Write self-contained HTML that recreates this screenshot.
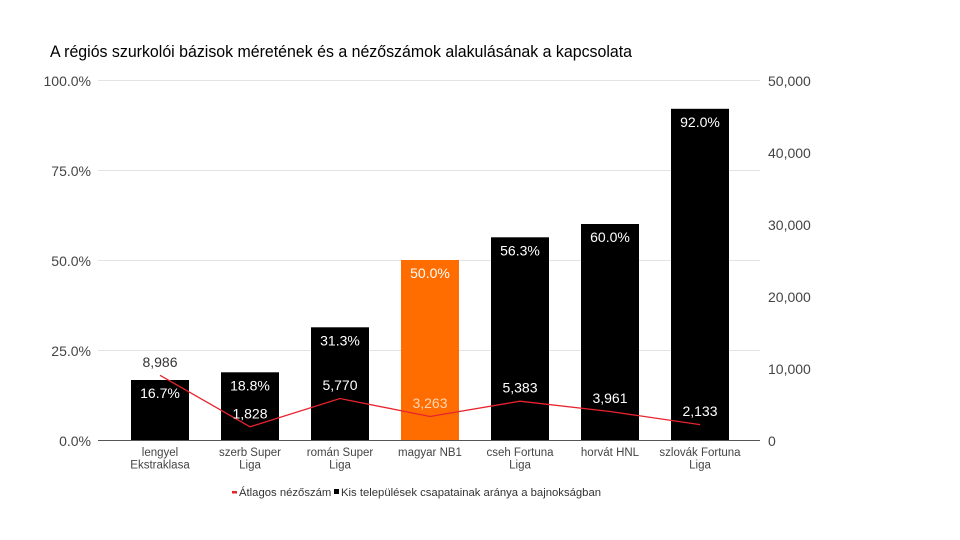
<!DOCTYPE html>
<html>
<head>
<meta charset="utf-8">
<style>
  html, body { margin:0; padding:0; background:#fff; }
  svg { display:block; }
  text { font-family: "Liberation Sans", Arial, sans-serif; }
</style>
</head>
<body>
<svg width="960" height="540" viewBox="0 0 960 540" xmlns="http://www.w3.org/2000/svg">
  <rect width="960" height="540" fill="#fff"/>
  <!-- Title -->
  <text x="50" y="57" font-size="16.3" fill="#000" textLength="582" lengthAdjust="spacingAndGlyphs">A régiós szurkolói bázisok méretének és a nézőszámok alakulásának a kapcsolata</text>

  <!-- Gridlines -->
  <g stroke="#e3e3e3" stroke-width="1">
    <line x1="98" y1="80.5" x2="760" y2="80.5"/>
    <line x1="98" y1="170.5" x2="760" y2="170.5"/>
    <line x1="98" y1="260.5" x2="760" y2="260.5"/>
    <line x1="98" y1="350.5" x2="760" y2="350.5"/>
  </g>

  <!-- Left axis labels -->
  <g font-size="14" fill="#444" text-anchor="end">
    <text x="91" y="86">100.0%</text>
    <text x="91" y="176">75.0%</text>
    <text x="91" y="266">50.0%</text>
    <text x="91" y="356">25.0%</text>
    <text x="91" y="446">0.0%</text>
  </g>
  <!-- Right axis labels -->
  <g font-size="14" fill="#444">
    <text x="768" y="86">50,000</text>
    <text x="768" y="158">40,000</text>
    <text x="768" y="230">30,000</text>
    <text x="768" y="302">20,000</text>
    <text x="768" y="374">10,000</text>
    <text x="768" y="446">0</text>
  </g>

  <!-- Bars -->
  <g>
    <rect x="131" y="380" width="58" height="60" fill="#000"/>
    <rect x="221" y="372.3" width="58" height="67.7" fill="#000"/>
    <rect x="311" y="327.3" width="58" height="112.7" fill="#000"/>
    <rect x="401" y="260" width="58" height="180" fill="#ff6d00"/>
    <rect x="491" y="237.3" width="58" height="202.7" fill="#000"/>
    <rect x="581" y="224" width="58" height="216" fill="#000"/>
    <rect x="671" y="108.8" width="58" height="331.2" fill="#000"/>
  </g>

  <!-- Baseline -->
  <line x1="98" y1="440.5" x2="760" y2="440.5" stroke="#555" stroke-width="1"/>

  <!-- Bar labels -->
  <g font-size="14" fill="#fff" text-anchor="middle">
    <text x="160" y="398">16.7%</text>
    <text x="250" y="390.5">18.8%</text>
    <text x="340" y="345.5">31.3%</text>
    <text x="430" y="278">50.0%</text>
    <text x="520" y="255.5">56.3%</text>
    <text x="610" y="242">60.0%</text>
    <text x="700" y="127">92.0%</text>
  </g>

  <!-- Line series -->
  <polyline fill="none" stroke="#e8232e" stroke-width="1.3"
    points="160,375.3 250,426.8 340,398.5 430,416.5 520,401.2 610,411.5 700,424.6"/>

  <!-- Line labels -->
  <g font-size="14" text-anchor="middle">
    <text x="160" y="367" fill="#333">8,986</text>
    <text x="250" y="418.5" fill="#fff">1,828</text>
    <text x="340" y="390" fill="#fff">5,770</text>
    <text x="430" y="408" fill="#ffd6b3">3,263</text>
    <text x="520" y="392.7" fill="#fff">5,383</text>
    <text x="610" y="403" fill="#fff">3,961</text>
    <text x="700" y="416" fill="#fff">2,133</text>
  </g>

  <!-- X axis labels -->
  <g font-size="11.5" fill="#444" text-anchor="middle">
    <text x="160" y="456">lengyel</text>
    <text x="160" y="468.5">Ekstraklasa</text>
    <text x="250" y="456">szerb Super</text>
    <text x="250" y="468.5">Liga</text>
    <text x="340" y="456">román Super</text>
    <text x="340" y="468.5">Liga</text>
    <text x="430" y="456">magyar NB1</text>
    <text x="520" y="456">cseh Fortuna</text>
    <text x="520" y="468.5">Liga</text>
    <text x="610" y="456">horvát HNL</text>
    <text x="700" y="456">szlovák Fortuna</text>
    <text x="700" y="468.5">Liga</text>
  </g>

  <!-- Legend -->
  <rect x="232" y="491" width="5" height="2.5" fill="#e8232e"/>
  <text x="239" y="496" font-size="11.3" fill="#333">Átlagos nézőszám</text>
  <rect x="334" y="489" width="5" height="5" fill="#000"/>
  <text x="341" y="496" font-size="11.3" fill="#333">Kis települések csapatainak aránya a bajnokságban</text>
</svg>
</body>
</html>
